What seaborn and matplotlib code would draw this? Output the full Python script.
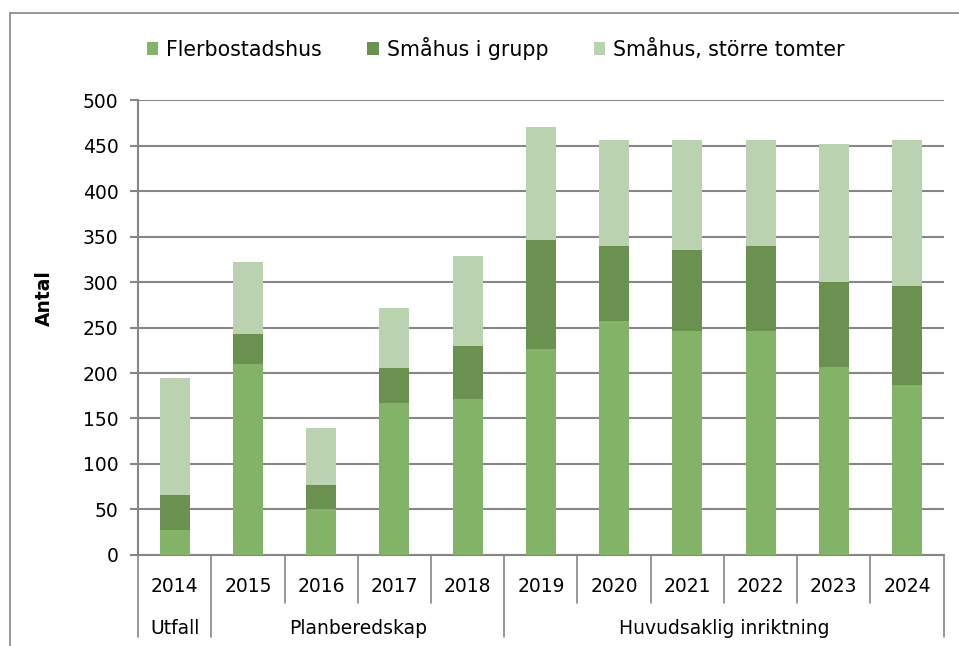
import numpy as np
import pandas as pd
import matplotlib.pyplot as plt
import seaborn as sns
from matplotlib.lines import Line2D
from matplotlib.patches import Patch
import matplotlib.transforms as mtransforms

sns.set_style('white')
plt.rcParams['font.family'] = ['DejaVu Sans']
plt.rcParams['text.color'] = 'black'
plt.rcParams['axes.labelcolor'] = 'black'
plt.rcParams['xtick.labelcolor'] = 'black'
plt.rcParams['ytick.labelcolor'] = 'black'

years = ['2014', '2015', '2016', '2017', '2018', '2019', '2020', '2021', '2022', '2023', '2024']
flerbostadshus = [27, 210, 50, 167, 171, 226, 257, 246, 246, 207, 187]
smahus_grupp = [39, 33, 27, 39, 59, 120, 83, 89, 94, 93, 109]
smahus_storre = [129, 79, 63, 66, 99, 125, 116, 121, 116, 152, 160]
groups = ['Utfall', 'Planberedskap', 'Huvudsaklig inriktning']
group_sizes = [1, 4, 6]

df = pd.DataFrame({'year': years,
                   'Flerbostadshus': flerbostadshus,
                   'Småhus i grupp': smahus_grupp,
                   'Småhus, större tomter': smahus_storre})
# cumulative heights for the stacking trick
df['c1'] = df['Flerbostadshus']
df['c2'] = df['c1'] + df['Småhus i grupp']
df['c3'] = df['c2'] + df['Småhus, större tomter']

colors = ['#82b366', '#6b9151', '#bad2af']
gray = '#868686'
fs = 13.5

fig = plt.figure(figsize=(9.59, 6.46), dpi=100)
ax = fig.add_axes([0.144, 0.141, 0.84, 0.704])

for col, c in zip(['c3', 'c2', 'c1'], colors[::-1]):
    sns.barplot(data=df, x='year', y=col, color=c, width=0.41, ax=ax,
                saturation=1, edgecolor='none', zorder=3)

ax.set_ylim(0, 500)
ax.set_xlim(-0.5, len(years) - 0.5)
ax.set_yticks(range(0, 501, 50))
ax.yaxis.grid(True, color=gray, linewidth=1.5, zorder=0)
ax.set_axisbelow(True)
for s in ['top', 'right']:
    ax.spines[s].set_visible(False)
ax.spines['left'].set_color(gray)
ax.spines['left'].set_linewidth(1.5)
ax.spines['bottom'].set_color(gray)
ax.spines['bottom'].set_linewidth(1.5)
ax.tick_params(axis='y', length=6, width=1.5, color=gray, labelsize=fs, left=True, pad=8)
ax.tick_params(axis='x', length=0, labelsize=fs, pad=16)
ax.set_xlabel('')
ax.set_ylabel('Antal', fontsize=fs, fontweight='bold')
ax.yaxis.set_label_coords(-0.105, 0.565)

# two-level category axis
trans = mtransforms.blended_transform_factory(ax.transData, ax.transAxes)
bounds = np.cumsum([0] + group_sizes) - 0.5
for i in range(len(years) + 1):
    x = i - 0.5
    bottom = -0.18 if x in bounds else -0.105
    ax.add_line(Line2D([x, x], [0, bottom], transform=trans, color=gray,
                       linewidth=1.2, clip_on=False))
for g, lo, hi in zip(groups, bounds[:-1], bounds[1:]):
    ax.text((lo + hi) / 2, -0.162, g, transform=trans, ha='center', va='center',
            fontsize=fs)

handles = [Patch(facecolor=c, edgecolor='none') for c in colors]
fig.legend(handles, ['Flerbostadshus', 'Småhus i grupp', 'Småhus, större tomter'],
           loc='center', bbox_to_anchor=(0.517, 0.925), ncol=3, frameon=False,
           fontsize=14.8, handlelength=0.55, handleheight=0.55, handletextpad=0.4,
           columnspacing=2.2)

# outer chart border
fig.add_artist(Line2D([10 / 959, 10 / 959], [0, 1 - 13 / 646], transform=fig.transFigure,
                      color=gray, linewidth=1.2))
fig.add_artist(Line2D([10 / 959, 1], [1 - 13 / 646, 1 - 13 / 646], transform=fig.transFigure,
                      color=gray, linewidth=1.2))

fig.savefig('out.png', dpi=100)
